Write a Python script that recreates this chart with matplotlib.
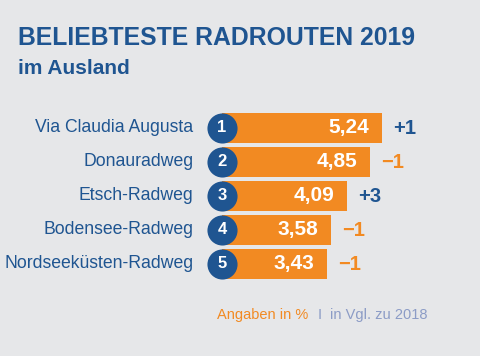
import matplotlib
matplotlib.use("Agg")
import matplotlib.pyplot as plt

routes = ["Via Claudia Augusta", "Donauradweg", "Etsch-Radweg", "Bodensee-Radweg", "Nordseeküsten-Radweg"]
ranks = ["1", "2", "3", "4", "5"]
values = [5.24, 4.85, 4.09, 3.58, 3.43]
changes = ["+1", "\u22121", "+3", "\u22121", "\u22121"]

bg = "#e6e7e9"
blue = "#1f5591"
orange = "#f28a22"

plt.rcParams["font.family"] = ["Liberation Sans", "DejaVu Sans"]

fig = plt.figure(figsize=(4.8, 3.56), dpi=100, facecolor=bg)
ax = fig.add_axes([0, 0, 1, 1])
ax.set_facecolor(bg)
ax.set_xlim(-222 / 30.5, (480 - 222) / 30.5)
ax.set_ylim((356 - 128) / 34, -128 / 34)
ax.axis("off")

ypos = list(range(len(routes)))
ax.barh(ypos, values, height=0.86, color=orange, zorder=1)
ax.scatter([0] * len(ypos), ypos, s=470, color=blue, zorder=2, linewidths=0)

for i in ypos:
    ax.text(0, i, ranks[i], color="white", fontsize=12, fontweight="bold",
            ha="center", va="center", zorder=3)
    ax.annotate(routes[i], (0, i), xytext=(-20.5, 0), textcoords="offset points",
                ha="right", va="center", color=blue, fontsize=12.7)
    ax.annotate(f"{values[i]:.2f}".replace(".", ","), (values[i], i), xytext=(-9, 0),
                textcoords="offset points", ha="right", va="center",
                color="white", fontsize=15, fontweight="bold", zorder=3)
    col = blue if changes[i].startswith("+") else orange
    ax.annotate(changes[i], (values[i], i), xytext=(8, 0), textcoords="offset points",
                ha="left", va="center", color=col, fontsize=14.5, fontweight="bold")

fig.text(0.0375, 0.874, "BELIEBTESTE RADROUTEN 2019", color=blue, fontsize=17.8,
         fontweight="bold", ha="left", va="baseline")
fig.text(0.0375, 0.792, "im Ausland", color=blue, fontsize=15,
         fontweight="bold", ha="left", va="baseline")
fig.text(0.452, 0.104, "Angaben in %", color=orange, fontsize=10.5, ha="left", va="baseline")
fig.text(0.6625, 0.104, "I", color="#8c9cc6", fontsize=10.5, ha="left", va="baseline")
fig.text(0.6875, 0.104, "in Vgl. zu 2018", color="#8c9cc6", fontsize=10.5, ha="left", va="baseline")

fig.savefig("out.png", dpi=100, facecolor=bg)
